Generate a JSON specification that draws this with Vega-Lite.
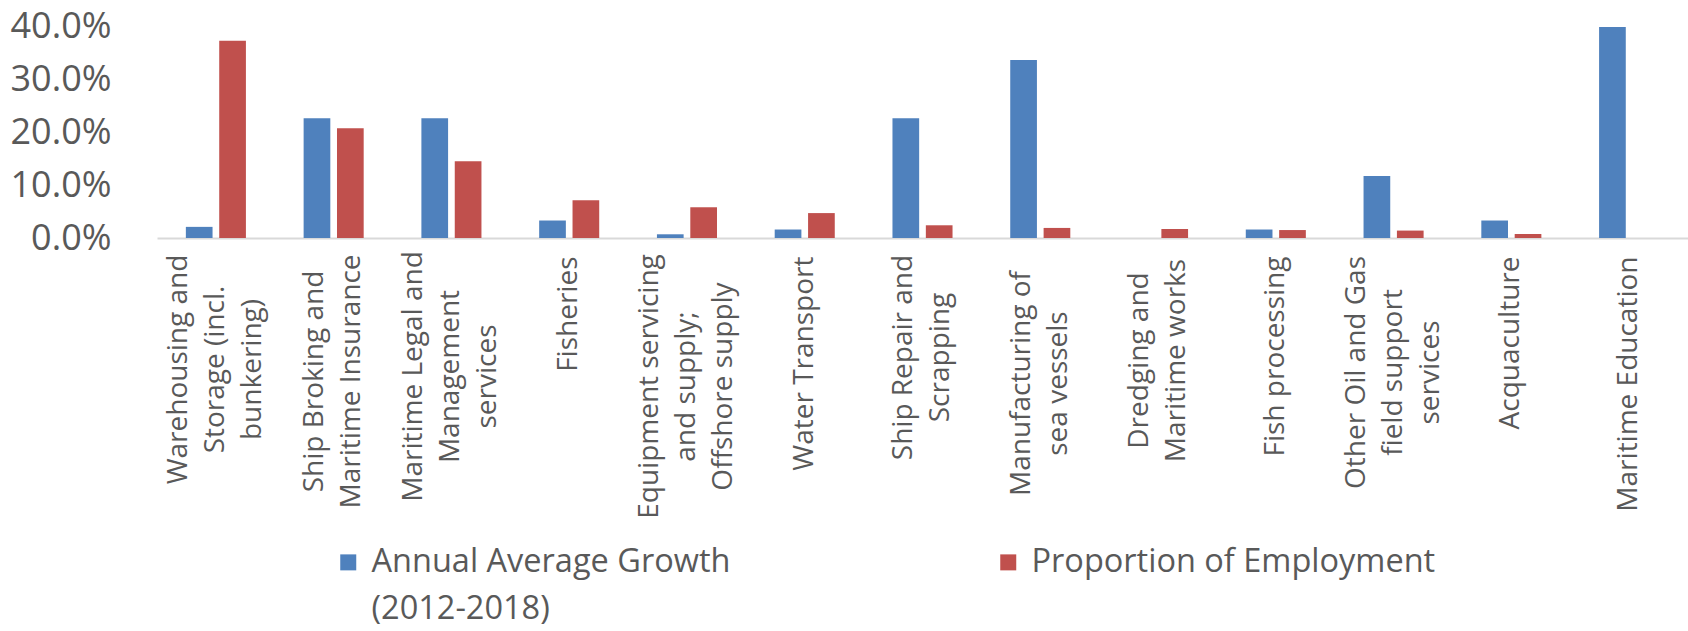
{
  "$schema": "https://vega.github.io/schema/vega-lite/v6.json",
  "autosize": "none",
  "width": 1531,
  "height": 212,
  "padding": {"left": 157, "top": 26, "right": 0, "bottom": 393},
  "background": "white",
  "config": {"view": {"stroke": null}, "style": {"guide-label": {"lineHeight": 47}}},
  "data": {
    "values": [
      {"category": "Warehousing and Storage (incl. bunkering)", "series": "Annual Average Growth (2012-2018)", "value": 0.021},
      {"category": "Warehousing and Storage (incl. bunkering)", "series": "Proportion of Employment", "value": 0.372},
      {"category": "Ship Broking and Maritime Insurance", "series": "Annual Average Growth (2012-2018)", "value": 0.226},
      {"category": "Ship Broking and Maritime Insurance", "series": "Proportion of Employment", "value": 0.207},
      {"category": "Maritime Legal and Management services", "series": "Annual Average Growth (2012-2018)", "value": 0.226},
      {"category": "Maritime Legal and Management services", "series": "Proportion of Employment", "value": 0.145},
      {"category": "Fisheries", "series": "Annual Average Growth (2012-2018)", "value": 0.033},
      {"category": "Fisheries", "series": "Proportion of Employment", "value": 0.071},
      {"category": "Equipment servicing and supply; Offshore supply", "series": "Annual Average Growth (2012-2018)", "value": 0.007},
      {"category": "Equipment servicing and supply; Offshore supply", "series": "Proportion of Employment", "value": 0.058},
      {"category": "Water Transport", "series": "Annual Average Growth (2012-2018)", "value": 0.016},
      {"category": "Water Transport", "series": "Proportion of Employment", "value": 0.047},
      {"category": "Ship Repair and Scrapping", "series": "Annual Average Growth (2012-2018)", "value": 0.226},
      {"category": "Ship Repair and Scrapping", "series": "Proportion of Employment", "value": 0.024},
      {"category": "Manufacturing of sea vessels", "series": "Annual Average Growth (2012-2018)", "value": 0.336},
      {"category": "Manufacturing of sea vessels", "series": "Proportion of Employment", "value": 0.019},
      {"category": "Dredging and Maritime works", "series": "Annual Average Growth (2012-2018)", "value": 0},
      {"category": "Dredging and Maritime works", "series": "Proportion of Employment", "value": 0.017},
      {"category": "Fish processing", "series": "Annual Average Growth (2012-2018)", "value": 0.016},
      {"category": "Fish processing", "series": "Proportion of Employment", "value": 0.015},
      {"category": "Other Oil and Gas field support services", "series": "Annual Average Growth (2012-2018)", "value": 0.117},
      {"category": "Other Oil and Gas field support services", "series": "Proportion of Employment", "value": 0.014},
      {"category": "Acquaculture", "series": "Annual Average Growth (2012-2018)", "value": 0.033},
      {"category": "Acquaculture", "series": "Proportion of Employment", "value": 0.0075},
      {"category": "Maritime Education", "series": "Annual Average Growth (2012-2018)", "value": 0.398},
      {"category": "Maritime Education", "series": "Proportion of Employment", "value": 0}
    ]
  },
  "mark": {"type": "bar"},
  "encoding": {
    "x": {
      "field": "category",
      "type": "nominal",
      "sort": null,
      "title": null,
      "scale": {"paddingInner": 0.49, "paddingOuter": 0.245},
      "axis": {
        "labelAngle": -90,
        "labelAlign": {
          "condition": {"test": "indexof(['Warehousing and Storage (incl. bunkering)', 'Maritime Legal and Management services', 'Equipment servicing and supply; Offshore supply', 'Other Oil and Gas field support services', 'Ship Broking and Maritime Insurance', 'Ship Repair and Scrapping', 'Manufacturing of sea vessels', 'Dredging and Maritime works'], datum.label) >= 0", "value": "center"},
          "value": "right"
        },
        "labelBaseline": "middle",
        "labelFont": "Open Sans",
        "labelFontSize": 28,
        "labelLineHeight": 37,
        "labelColor": "#595959",
        "labelPadding": {
          "condition": [
            {"test": "datum.label == 'Warehousing and Storage (incl. bunkering)'", "value": 131},
            {"test": "datum.label == 'Ship Broking and Maritime Insurance'", "value": 143},
            {"test": "datum.label == 'Maritime Legal and Management services'", "value": 138},
            {"test": "datum.label == 'Equipment servicing and supply; Offshore supply'", "value": 148},
            {"test": "datum.label == 'Ship Repair and Scrapping'", "value": 119},
            {"test": "datum.label == 'Manufacturing of sea vessels'", "value": 145},
            {"test": "datum.label == 'Dredging and Maritime works'", "value": 122},
            {"test": "datum.label == 'Other Oil and Gas field support services'", "value": 134}
          ],
          "value": 18
        },
        "labelLimit": 0,
        "labelOffset": {
          "condition": [
            {"test": "indexof(['Warehousing and Storage (incl. bunkering)', 'Maritime Legal and Management services', 'Equipment servicing and supply; Offshore supply', 'Other Oil and Gas field support services'], datum.label) >= 0", "value": -37},
            {"test": "indexof(['Ship Broking and Maritime Insurance', 'Ship Repair and Scrapping', 'Manufacturing of sea vessels', 'Dredging and Maritime works'], datum.label) >= 0", "value": -18.5}
          ],
          "value": 0
        },
        "ticks": false,
        "domainColor": "#d9d9d9",
        "domainWidth": 2,
        "labelExpr": "{'Warehousing and Storage (incl. bunkering)': ['Warehousing and', 'Storage (incl.', 'bunkering)'], 'Ship Broking and Maritime Insurance': ['Ship Broking and', 'Maritime Insurance'], 'Maritime Legal and Management services': ['Maritime Legal and', 'Management', 'services'], 'Fisheries': 'Fisheries', 'Equipment servicing and supply; Offshore supply': ['Equipment servicing', 'and supply;', 'Offshore supply'], 'Water Transport': 'Water Transport', 'Ship Repair and Scrapping': ['Ship Repair and', 'Scrapping'], 'Manufacturing of sea vessels': ['Manufacturing of', 'sea vessels'], 'Dredging and Maritime works': ['Dredging and', 'Maritime works'], 'Fish processing': 'Fish processing', 'Other Oil and Gas field support services': ['Other Oil and Gas', 'field support', 'services'], 'Acquaculture': 'Acquaculture', 'Maritime Education': 'Maritime Education'}[datum.label]"
      }
    },
    "xOffset": {
      "field": "series",
      "type": "nominal",
      "sort": ["Annual Average Growth (2012-2018)", "Proportion of Employment"],
      "scale": {"paddingInner": 0.2, "paddingOuter": 0}
    },
    "y": {
      "field": "value",
      "type": "quantitative",
      "title": null,
      "scale": {"domain": [0, 0.4], "nice": false},
      "axis": {
        "values": [0, 0.1, 0.2, 0.3, 0.4],
        "format": ".1%",
        "grid": false,
        "domain": false,
        "ticks": false,
        "labelFont": "Open Sans",
        "labelFontSize": 36,
        "labelColor": "#595959",
        "labelPadding": 46
      }
    },
    "color": {
      "field": "series",
      "type": "nominal",
      "scale": {
        "domain": ["Annual Average Growth (2012-2018)", "Proportion of Employment"],
        "range": ["#4F81BD", "#C0504D"]
      },
      "legend": {
        "title": null,
        "orient": "none",
        "legendX": 175,
        "legendY": 520,
        "direction": "horizontal",
        "columns": 2,
        "columnPadding": 261,
        "symbolType": "square",
        "symbolSize": 256,
        "symbolStrokeWidth": 0,
        "labelFont": "Open Sans",
        "labelFontSize": 32.5,
        "labelColor": "#595959",
        "labelOffset": 7,
        "labelLimit": 0,
        "labelBaseline": "middle",
        "labelExpr": "datum.label == 'Annual Average Growth (2012-2018)' ? ['Annual Average Growth', '(2012-2018)'] : [datum.label, '']"
      }
    }
  }
}
